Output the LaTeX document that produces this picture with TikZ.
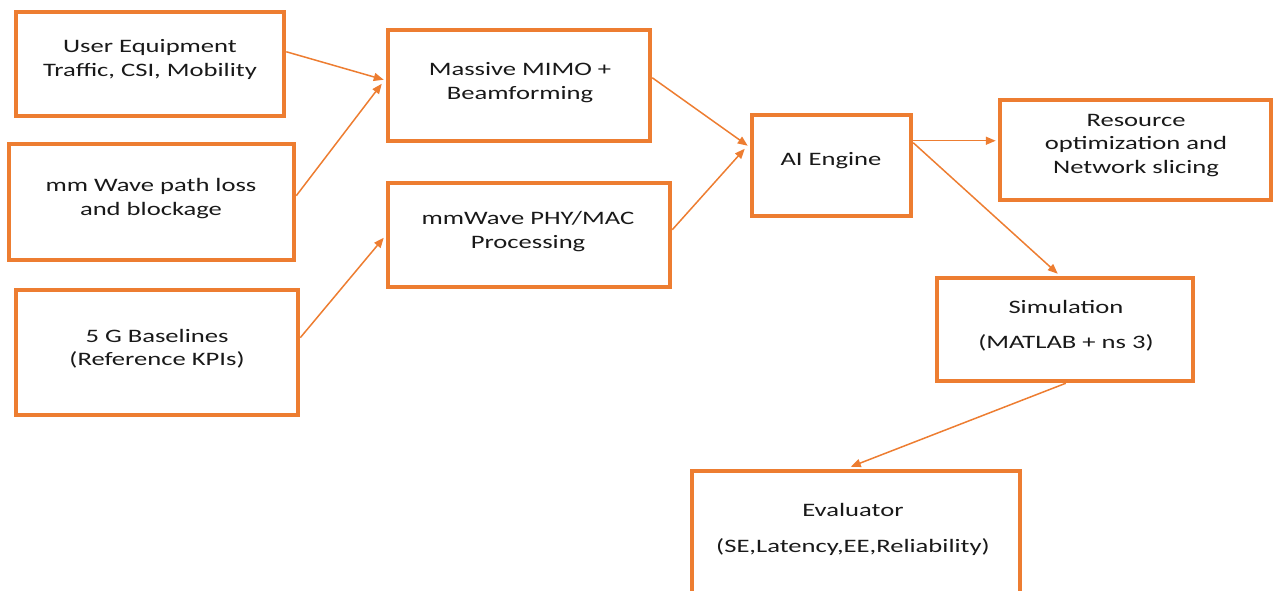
\documentclass[tikz,border=0pt]{standalone}
\usepackage{fontspec}
\setmainfont{Carlito}[FakeStretch=1.4]
\usetikzlibrary{calc,arrows.meta}
\definecolor{boxorange}{HTML}{ED7D31}
\begin{document}
\begin{tikzpicture}[x=1pt,y=-1pt,
  box/.style={draw=boxorange,line width=4.5pt,inner sep=0pt,fill=none},
  lbl/.style={align=center,inner sep=0pt,font=\fontsize{19}{23.5}\selectfont,text=black!90},
  flow/.style={draw=boxorange,line width=1.5pt,-{Triangle[length=10pt,width=8pt]}}]
  \useasboundingbox (0,0) rectangle (1275,591);
  \clip (0,0) rectangle (1275,591);

  % boxes
  \node[box,minimum width=268pt,minimum height=104pt] (ue)   at (150,64)    {};
  \node[box,minimum width=285pt,minimum height=116pt] (mmw)  at (151.5,202) {};
  \node[box,minimum width=282pt,minimum height=125pt] (base) at (157,352.5) {};
  \node[box,minimum width=262pt,minimum height=111pt] (mimo) at (519,85.5)  {};
  \node[box,minimum width=282pt,minimum height=104pt] (phy)  at (529,235)   {};
  \node[box,minimum width=159pt,minimum height=101pt] (ai)   at (831.5,165.5) {};
  \node[box,minimum width=271pt,minimum height=100pt] (res)  at (1135.5,150) {};
  \node[box,minimum width=256pt,minimum height=103pt] (sim)  at (1065,329.5) {};
  \node[box,minimum width=328pt,minimum height=170pt] (eval) at (856,556)   {};

  % labels
  \node[lbl] (tue)   at (150,59.5)   {User Equipment\\Traffic, CSI, Mobility};
  \node[lbl] (tmmw)  at (151,198.5)  {mm Wave path loss\\and blockage};
  \node[lbl] (tbase) at (157,348.5)  {5 G Baselines\\(Reference KPIs)};
  \node[lbl] (tmimo) at (520,82.5)   {Massive MIMO +\\Beamforming};
  \node[lbl] (tphy)  at (528,231.5)  {mmWave PHY/MAC\\Processing};
  \node[lbl] (tai)   at (831,160.5)  {AI Engine};
  \node[lbl] (tres)  at (1136,145.5) {Resource\\optimization and\\Network slicing};
  \node[lbl] (tsim)  at (1066,325.5) {Simulation\\[12pt](MATLAB + ns 3)};
  \node[lbl] (teval) at (853,529.5)  {Evaluator\\[13pt](SE,Latency,EE,Reliability)};

  % connectors
  \draw[flow] ($(ue.north east)+(0,42)$)   -- ($(mimo.north west)+(-2,52)$);
  \draw[flow] ($(mmw.north east)+(0,54)$)  -- ($(mimo.north west)+(-4,56)$);
  \draw[flow] ($(base.north east)+(0,50)$) -- ($(phy.north west)+(-2,57)$);
  \draw[flow] ($(mimo.north east)+(0,50)$) -- ($(ai.north west)+(-2,33)$);
  \draw[flow] ($(phy.north east)+(0,49)$)  -- ($(ai.north west)+(-5,36)$);
  \draw[flow] ($(ai.north east)+(0,28)$)   -- ($(res.north west)+(-2,43)$);
  \draw[flow] ($(ai.north east)+(0,30)$)   -- ($(sim.north west)+(123,-2)$);
  \draw[flow] ($(sim.south west)+(131,0)$) -- ($(eval.north west)+(161,-2)$);
\end{tikzpicture}
\end{document}
